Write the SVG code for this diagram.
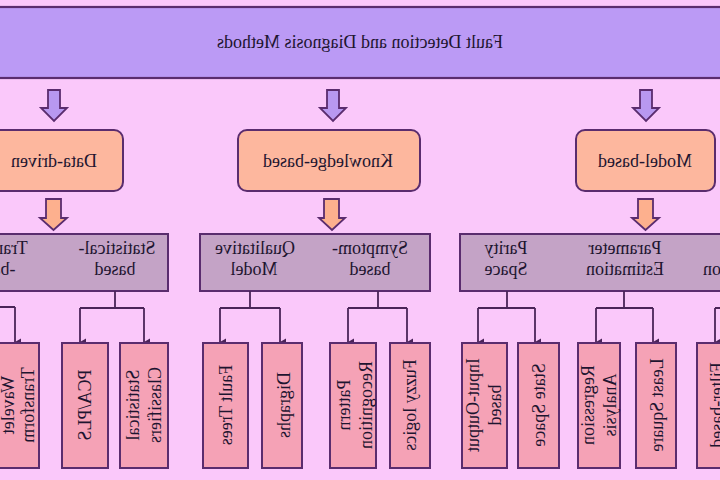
<svg xmlns="http://www.w3.org/2000/svg" width="720" height="480" viewBox="0 0 720 480">
<defs>
<marker id="ah" markerUnits="userSpaceOnUse" markerWidth="8" markerHeight="8" refX="4" refY="7" orient="auto-start-reverse" viewBox="0 0 8 8">
<path d="M0.5,1 L7.5,1 L4,7 Z" fill="#4a2458"/>
</marker>
<style>
.bg{fill:#FAC8FA}
.banner{fill:#BB9AF5;stroke:#5A2C6E;stroke-width:2.2}
.la{fill:#B898F0;stroke:#5A2C6E;stroke-width:1.8}
.ob{fill:#FDB79E;stroke:#5A2C6E;stroke-width:2}
.oa{fill:#FDB08E;stroke:#5A2C6E;stroke-width:1.8}
.gb{fill:#C4A3C6;stroke:#5A2C6E;stroke-width:2}
.lf{fill:#F5A2B6;stroke:#5A2C6E;stroke-width:2}
.t{font-family:"Liberation Serif","Times New Roman",serif;font-size:18px;fill:#1E1530;text-anchor:middle}
.v{font-family:"Liberation Serif","Times New Roman",serif;font-size:18px;fill:#1E1530;text-anchor:middle;dominant-baseline:central}
.cn{fill:none;stroke:#4a2458;stroke-width:1.8}
</style>
</defs>
<rect class="bg" x="0" y="0" width="720" height="480"/>

<g id="root">
<rect class="banner" x="-5" y="7" width="730" height="71"/>
<text class="t" transform="translate(360,48) scale(-1,1)">Fault Detection and Diagnosis Methods</text>
</g>

<g id="top-arrows">
<polygon class="la" points="48,90 60,90 60,108 67,108 54,121 41,108 48,108"/>
<polygon class="la" points="327,90 339,90 339,108 346,108 333,121 320,108 327,108"/>
<polygon class="la" points="640,90 652,90 652,108 659,108 646,121 633,108 640,108"/>
</g>

<g id="data-driven">
<rect class="ob" x="-16" y="130" width="139" height="61" rx="9"/>
<text class="t" transform="translate(54,167) scale(-1,1)">Data-driven</text>
<polygon class="oa" points="46,199 61,199 61,218 67,218 53.5,230 40,218 46,218"/>
</g>
<g id="knowledge-based">
<rect class="ob" x="238" y="130" width="182" height="61" rx="9"/>
<text class="t" transform="translate(328,167) scale(-1,1)">Knowledge-based</text>
<polygon class="oa" points="324,199 339,199 339,218 345,218 332,230 319,218 324,218"/>
</g>
<g id="model-based">
<rect class="ob" x="576" y="130" width="139" height="61" rx="9"/>
<text class="t" transform="translate(645,167) scale(-1,1)">Model-based</text>
<polygon class="oa" points="638,199 653,199 653,218 659,218 645.5,230 632,218 638,218"/>
</g>

<g id="data-methods">
<rect class="gb" x="-20" y="234" width="188" height="57"/>
<text class="t" transform="translate(117,254) scale(-1,1)">Statistical-</text>
<text class="t" transform="translate(115,275) scale(-1,1)">based</text>
<text class="t" transform="translate(-10,254) scale(-1,1)">Transform</text>
<text class="t" transform="translate(-8,275) scale(-1,1)">-based</text>
</g>
<g id="knowledge-methods">
<rect class="gb" x="200" y="234" width="230" height="57"/>
<text class="t" transform="translate(370,254) scale(-1,1)">Symptom-</text>
<text class="t" transform="translate(370,275) scale(-1,1)">based</text>
<text class="t" transform="translate(255,254) scale(-1,1)">Qualitative</text>
<text class="t" transform="translate(254,275) scale(-1,1)">Model</text>
</g>
<g id="model-methods">
<rect class="gb" x="460" y="234" width="280" height="57"/>
<text class="t" transform="translate(506,254) scale(-1,1)">Parity</text>
<text class="t" transform="translate(506,275) scale(-1,1)">Space</text>
<text class="t" transform="translate(625,254) scale(-1,1)">Parameter</text>
<text class="t" transform="translate(625,275) scale(-1,1)">Estimation</text>
<text class="t" transform="translate(742,275) scale(-1,1)">Estimation</text>
</g>

<g id="connectors">
<path class="cn" d="M-8,291 V307 M-60,307 H15" />
<path class="cn" d="M15,307 V342" marker-end="url(#ah)"/>
<path class="cn" d="M115,291 V308 M80,308 H144"/>
<path class="cn" d="M80,308 V342" marker-end="url(#ah)"/>
<path class="cn" d="M144,308 V342" marker-end="url(#ah)"/>
<path class="cn" d="M250,291 V308 M220,308 H280"/>
<path class="cn" d="M220,308 V342" marker-end="url(#ah)"/>
<path class="cn" d="M280,308 V342" marker-end="url(#ah)"/>
<path class="cn" d="M378,291 V308 M348,308 H407"/>
<path class="cn" d="M348,308 V342" marker-end="url(#ah)"/>
<path class="cn" d="M407,308 V342" marker-end="url(#ah)"/>
<path class="cn" d="M507,291 V308 M478,308 H535"/>
<path class="cn" d="M478,308 V342" marker-end="url(#ah)"/>
<path class="cn" d="M535,308 V342" marker-end="url(#ah)"/>
<path class="cn" d="M624,291 V308 M596,308 H653"/>
<path class="cn" d="M596,308 V342" marker-end="url(#ah)"/>
<path class="cn" d="M653,308 V342" marker-end="url(#ah)"/>
<path class="cn" d="M715,308 H780"/>
<path class="cn" d="M715,308 V342" marker-end="url(#ah)"/>
</g>

<g id="wavelet-transform">
<rect class="lf" x="-12" y="343" width="51" height="125"/>
<text class="v" transform="translate(8,405) scale(-1,1) rotate(90)">Wavelet</text>
<text class="v" transform="translate(28,405) scale(-1,1) rotate(90)">Transform</text>
</g>
<g id="pca-pls">
<rect class="lf" x="62" y="343" width="46" height="125"/>
<text class="v" transform="translate(85,405) scale(-1,1) rotate(90)">PCA/PLS</text>
</g>
<g id="statistical-classifiers">
<rect class="lf" x="120" y="343" width="48" height="125"/>
<text class="v" transform="translate(133,405) scale(-1,1) rotate(90)">Statistical</text>
<text class="v" transform="translate(155,405) scale(-1,1) rotate(90)">Classifiers</text>
</g>
<g id="fault-trees">
<rect class="lf" x="203" y="343" width="45" height="125"/>
<text class="v" transform="translate(226,405) scale(-1,1) rotate(90)">Fault Trees</text>
</g>
<g id="digraphs">
<rect class="lf" x="262" y="343" width="40" height="125"/>
<text class="v" transform="translate(284,405) scale(-1,1) rotate(90)">Digraphs</text>
</g>
<g id="pattern-recognition">
<rect class="lf" x="330" y="343" width="46" height="125"/>
<text class="v" transform="translate(344,405) scale(-1,1) rotate(90)">Pattern</text>
<text class="v" transform="translate(366,405) scale(-1,1) rotate(90)">Recognition</text>
</g>
<g id="fuzzy-logics">
<rect class="lf" x="390" y="343" width="40" height="125"/>
<text class="v" transform="translate(410,405) scale(-1,1) rotate(90)">Fuzzy logics</text>
</g>
<g id="input-output-based">
<rect class="lf" x="462" y="343" width="45" height="125"/>
<text class="v" transform="translate(473,405) scale(-1,1) rotate(90)">Input-Output</text>
<text class="v" transform="translate(495,405) scale(-1,1) rotate(90)">based</text>
</g>
<g id="state-space">
<rect class="lf" x="518" y="343" width="41" height="125"/>
<text class="v" transform="translate(539,405) scale(-1,1) rotate(90)">State Space</text>
</g>
<g id="regression-analysis">
<rect class="lf" x="578" y="343" width="42" height="125"/>
<text class="v" transform="translate(588,405) scale(-1,1) rotate(90)">Regression</text>
<text class="v" transform="translate(610,405) scale(-1,1) rotate(90)">Analysis</text>
</g>
<g id="least-square">
<rect class="lf" x="636" y="343" width="40" height="125"/>
<text class="v" transform="translate(657,405) scale(-1,1) rotate(90)">Least Square</text>
</g>
<g id="filter-based">
<rect class="lf" x="697" y="343" width="45" height="125"/>
<text class="v" transform="translate(717,405) scale(-1,1) rotate(90)">Filter-based</text>
</g>
</svg>
